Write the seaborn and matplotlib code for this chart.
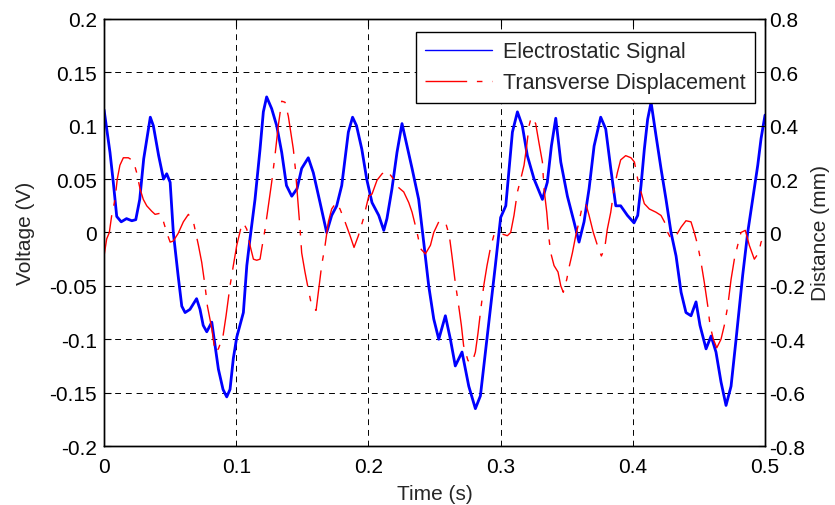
import numpy as np
import pandas as pd
import matplotlib
matplotlib.use('Agg')
import matplotlib.pyplot as plt
import seaborn as sns

# Electrostatic signal (V) vs time (s)
blue_t = [0.0, 0.0045, 0.007, 0.0096, 0.013, 0.017, 0.021, 0.024, 0.027, 0.030,
          0.035, 0.0373, 0.0413, 0.045, 0.0474, 0.050, 0.0524, 0.056, 0.0588, 0.0613,
          0.065, 0.070, 0.0726, 0.075, 0.0777, 0.0815, 0.084, 0.0865, 0.090, 0.0928,
          0.0953, 0.0978, 0.1004, 0.1054, 0.108, 0.1104, 0.1142, 0.118, 0.1205, 0.123,
          0.1268, 0.1306, 0.1344, 0.138, 0.142, 0.146, 0.1495, 0.1545, 0.1583, 0.1634,
          0.1684, 0.1722, 0.176, 0.1798, 0.1823, 0.1848, 0.188, 0.191, 0.195, 0.1987,
          0.2027, 0.2078, 0.2116, 0.214, 0.2178, 0.2216, 0.2254, 0.2292, 0.233, 0.238,
          0.2418, 0.2456, 0.2494, 0.2532, 0.2582, 0.262, 0.2657, 0.2708, 0.2759, 0.2809,
          0.2847, 0.2885, 0.2922, 0.296, 0.3, 0.3039, 0.3064, 0.3089, 0.3127, 0.3164,
          0.3202, 0.3253, 0.3316, 0.3353, 0.3384, 0.3417, 0.3455, 0.3505, 0.3555, 0.3593,
          0.3631, 0.3669, 0.3707, 0.3757, 0.3795, 0.3833, 0.3871, 0.3908, 0.3959, 0.4009,
          0.4037, 0.4062, 0.4087, 0.4112, 0.4138, 0.4175, 0.4213, 0.4251, 0.4289, 0.4327,
          0.4365, 0.4402, 0.444, 0.4478, 0.4508, 0.4554, 0.4592, 0.4629, 0.4667, 0.4705,
          0.4743, 0.4781, 0.4831, 0.4869, 0.4906, 0.4945, 0.497, 0.5]
blue_v = [0.115, 0.075, 0.047, 0.015, 0.010, 0.013, 0.011, 0.012, 0.031, 0.069,
          0.108, 0.100, 0.072, 0.050, 0.055, 0.047, 0.000, -0.040, -0.069, -0.075,
          -0.072, -0.062, -0.072, -0.087, -0.093, -0.084, -0.106, -0.128, -0.147, -0.154,
          -0.147, -0.118, -0.098, -0.075, -0.031, -0.006, 0.031, 0.078, 0.113, 0.127,
          0.116, 0.100, 0.075, 0.044, 0.034, 0.041, 0.060, 0.070, 0.056, 0.028,
          0.000, 0.016, 0.025, 0.044, 0.069, 0.094, 0.108, 0.100, 0.078, 0.050,
          0.028, 0.016, 0.002, 0.013, 0.041, 0.075, 0.102, 0.081, 0.060, 0.031,
          -0.009, -0.050, -0.081, -0.100, -0.078, -0.100, -0.125, -0.112, -0.144, -0.165,
          -0.153, -0.112, -0.072, -0.031, 0.014, 0.025, 0.060, 0.094, 0.113, 0.100,
          0.072, 0.050, 0.031, 0.047, 0.081, 0.107, 0.066, 0.034, 0.010, -0.009,
          0.010, 0.041, 0.081, 0.108, 0.097, 0.060, 0.025, 0.025, 0.016, 0.009,
          0.016, 0.044, 0.078, 0.106, 0.122, 0.091, 0.060, 0.031, 0.000, -0.022,
          -0.056, -0.075, -0.078, -0.065, -0.087, -0.109, -0.097, -0.112, -0.140, -0.162,
          -0.144, -0.100, -0.040, 0.000, 0.031, 0.063, 0.088, 0.110]

# Transverse displacement (mm) vs time (s)
red_t = [0.0, 0.002, 0.004, 0.0058, 0.0083, 0.010, 0.012, 0.0146, 0.0184, 0.0222,
         0.0247, 0.0272, 0.0297, 0.0323, 0.036, 0.0386, 0.0424, 0.045, 0.0474, 0.050,
         0.0524, 0.056, 0.060, 0.0638, 0.0676, 0.0714, 0.0739, 0.0764, 0.0782, 0.0815,
         0.084, 0.0865, 0.090, 0.0923, 0.0953, 0.0978, 0.1004, 0.1033, 0.1054, 0.108,
         0.1104, 0.113, 0.1155, 0.118, 0.1193, 0.1218, 0.1243, 0.1268, 0.1293, 0.1318,
         0.1344, 0.1369, 0.1394, 0.1412, 0.1432, 0.1447, 0.1465, 0.1483, 0.1495, 0.152,
         0.1545, 0.1571, 0.1604, 0.1621, 0.1646, 0.1672, 0.1697, 0.1722, 0.1755, 0.1785,
         0.1823, 0.1861, 0.1891, 0.1924, 0.1962, 0.2002, 0.2027, 0.2065, 0.2103, 0.214,
         0.2178, 0.2229, 0.2267, 0.2305, 0.233, 0.2368, 0.2393, 0.2431, 0.2469, 0.2494,
         0.2532, 0.2582, 0.2612, 0.2632, 0.2657, 0.2683, 0.2703, 0.272, 0.2753, 0.2784,
         0.2809, 0.2829, 0.2847, 0.2872, 0.2897, 0.2922, 0.2948, 0.2973, 0.3, 0.3051,
         0.3076, 0.3101, 0.3127, 0.3152, 0.3177, 0.3197, 0.3215, 0.3232, 0.3265, 0.329,
         0.3316, 0.3328, 0.3349, 0.3366, 0.3379, 0.3404, 0.3434, 0.3455, 0.3474, 0.35,
         0.3517, 0.3543, 0.3568, 0.3593, 0.3618, 0.3644, 0.3669, 0.3701, 0.3732, 0.3762,
         0.3787, 0.3807, 0.3833, 0.3858, 0.3883, 0.3908, 0.3946, 0.3986, 0.4012, 0.4037,
         0.4062, 0.4087, 0.4125, 0.4175, 0.4213, 0.4239, 0.4264, 0.4289, 0.4327, 0.4365,
         0.4402, 0.444, 0.4465, 0.4491, 0.4516, 0.4541, 0.4567, 0.4584, 0.4609, 0.4635,
         0.4667, 0.4692, 0.4718, 0.4743, 0.4768, 0.4793, 0.4818, 0.4851, 0.4881, 0.4919,
         0.4952, 0.497, 0.5]
red_mm = [-0.088, -0.024, 0.0, 0.064, 0.124, 0.2, 0.252, 0.28, 0.28, 0.268,
          0.224, 0.164, 0.124, 0.1, 0.08, 0.068, 0.072, 0.04, 0.0, -0.036,
          -0.032, -0.004, 0.04, 0.068, 0.04, -0.048, -0.112, -0.2, -0.276, -0.36,
          -0.448, -0.436, -0.388, -0.312, -0.2, -0.124, -0.048, 0.012, 0.036, 0.012,
          -0.048, -0.1, -0.104, -0.1, -0.06, 0.012, 0.1, 0.188, 0.288, 0.4,
          0.492, 0.488, 0.436, 0.376, 0.312, 0.24, 0.124, 0.012, -0.076, -0.148,
          -0.212, -0.276, -0.292, -0.224, -0.124, -0.048, 0.04, 0.088, 0.112, 0.088,
          0.04, -0.012, -0.056, -0.012, 0.052, 0.136, 0.144, 0.196, 0.22, 0.232,
          0.208, 0.168, 0.152, 0.112, 0.076, 0.0, -0.06, -0.08, -0.048, 0.0,
          0.04, 0.04, -0.012, -0.088, -0.188, -0.276, -0.348, -0.424, -0.48, -0.488,
          -0.448, -0.376, -0.3, -0.2, -0.124, -0.06, -0.012, 0.0, -0.004, -0.012,
          0.0, 0.064, 0.152, 0.2, 0.252, 0.324, 0.4, 0.432, 0.408, 0.336,
          0.264, 0.164, 0.076, -0.024, -0.076, -0.124, -0.148, -0.2, -0.224, -0.176,
          -0.132, -0.076, -0.012, 0.04, 0.1, 0.108, 0.064, 0.0, -0.048, -0.088,
          -0.06, 0.012, 0.076, 0.164, 0.224, 0.272, 0.288, 0.28, 0.264, 0.2,
          0.152, 0.108, 0.088, 0.076, 0.064, 0.04, 0.0, -0.024, -0.012, 0.02,
          0.044, 0.04, 0.0, -0.048, -0.112, -0.188, -0.276, -0.348, -0.4, -0.432,
          -0.4, -0.348, -0.276, -0.176, -0.1, -0.048, 0.0, 0.008, -0.048, -0.1,
          -0.076, -0.036, -0.012]

x_ticks = [0, 0.1, 0.2, 0.3, 0.4, 0.5]
x_labels = ['0', '0.1', '0.2', '0.3', '0.4', '0.5']
yl_ticks = [-0.2, -0.15, -0.1, -0.05, 0, 0.05, 0.1, 0.15, 0.2]
yl_labels = ['-0.2', '-0.15', '-0.1', '-0.05', '0', '0.05', '0.1', '0.15', '0.2']
yr_ticks = [-0.8, -0.6, -0.4, -0.2, 0, 0.2, 0.4, 0.6, 0.8]
yr_labels = ['-0.8', '-0.6', '-0.4', '-0.2', '0', '0.2', '0.4', '0.6', '0.8']

sns.set_style('white')
plt.rcParams['font.family'] = ['Liberation Sans', 'DejaVu Sans']
plt.rcParams['font.size'] = 15
plt.rcParams['xtick.direction'] = 'in'
plt.rcParams['ytick.direction'] = 'in'

sig = pd.DataFrame({'t': blue_t, 'v': blue_v})
disp = pd.DataFrame({'t': red_t, 'mm': red_mm})

fig = plt.figure(figsize=(8.35, 5.06), dpi=100)
ax1 = fig.add_axes([0.1246, 0.1166, 0.7916, 0.8439])
ax2 = ax1.twinx()

sns.lineplot(data=sig, x='t', y='v', ax=ax1, color='blue', lw=2.0,
             estimator=None, sort=False, legend=False)
sns.lineplot(data=disp, x='t', y='mm', ax=ax2, color='red', lw=1.0,
             estimator=None, sort=False, legend=False)
ax2.lines[0].set_linestyle((0, (30, 7, 4, 7)))

ax1.set_xlim(0, 0.5)
ax1.set_ylim(-0.2, 0.2)
ax2.set_ylim(-0.8, 0.8)
ax1.set_xticks(x_ticks)
ax1.set_xticklabels(x_labels)
ax1.set_yticks(yl_ticks)
ax1.set_yticklabels(yl_labels)
ax2.set_yticks(yr_ticks)
ax2.set_yticklabels(yr_labels)

ax1.grid(True, color='black', linestyle=(0, (6, 5)), linewidth=0.7)
ax1.set_axisbelow(True)
ax1.tick_params(axis='y', labelsize=15, length=5, width=0.8, colors='black',
                right=False, pad=5)
ax1.tick_params(axis='x', labelsize=15, length=5, width=0.8, colors='black',
                top=True, pad=8)
ax2.tick_params(axis='y', labelsize=15, length=5, width=0.8, colors='black', pad=3)

ax1.set_xlabel('Time (s)', fontsize=15, labelpad=6)
ax1.set_ylabel('Voltage (V)', fontsize=15, labelpad=10)
ax2.set_ylabel('Distance (mm)', fontsize=15, labelpad=4)

for ax in (ax1, ax2):
    for s in ax.spines.values():
        s.set_color('black')
        s.set_linewidth(1.0)

h1 = ax1.get_lines()[0]
h2 = ax2.get_lines()[0]
leg = ax2.legend([h1, h2], ['Electrostatic Signal', 'Transverse Displacement'],
                 loc='upper right', bbox_to_anchor=(0.985, 0.97),
                 fontsize=15.5, frameon=True, fancybox=False,
                 framealpha=1, edgecolor='black', handlelength=3.1,
                 borderaxespad=0.0, labelspacing=0.45, borderpad=0.45,
                 handletextpad=0.5)
leg.get_frame().set_linewidth(1.0)
leg.legend_handles[0].set_linewidth(1.0)

fig.savefig('out.png', dpi=100)
